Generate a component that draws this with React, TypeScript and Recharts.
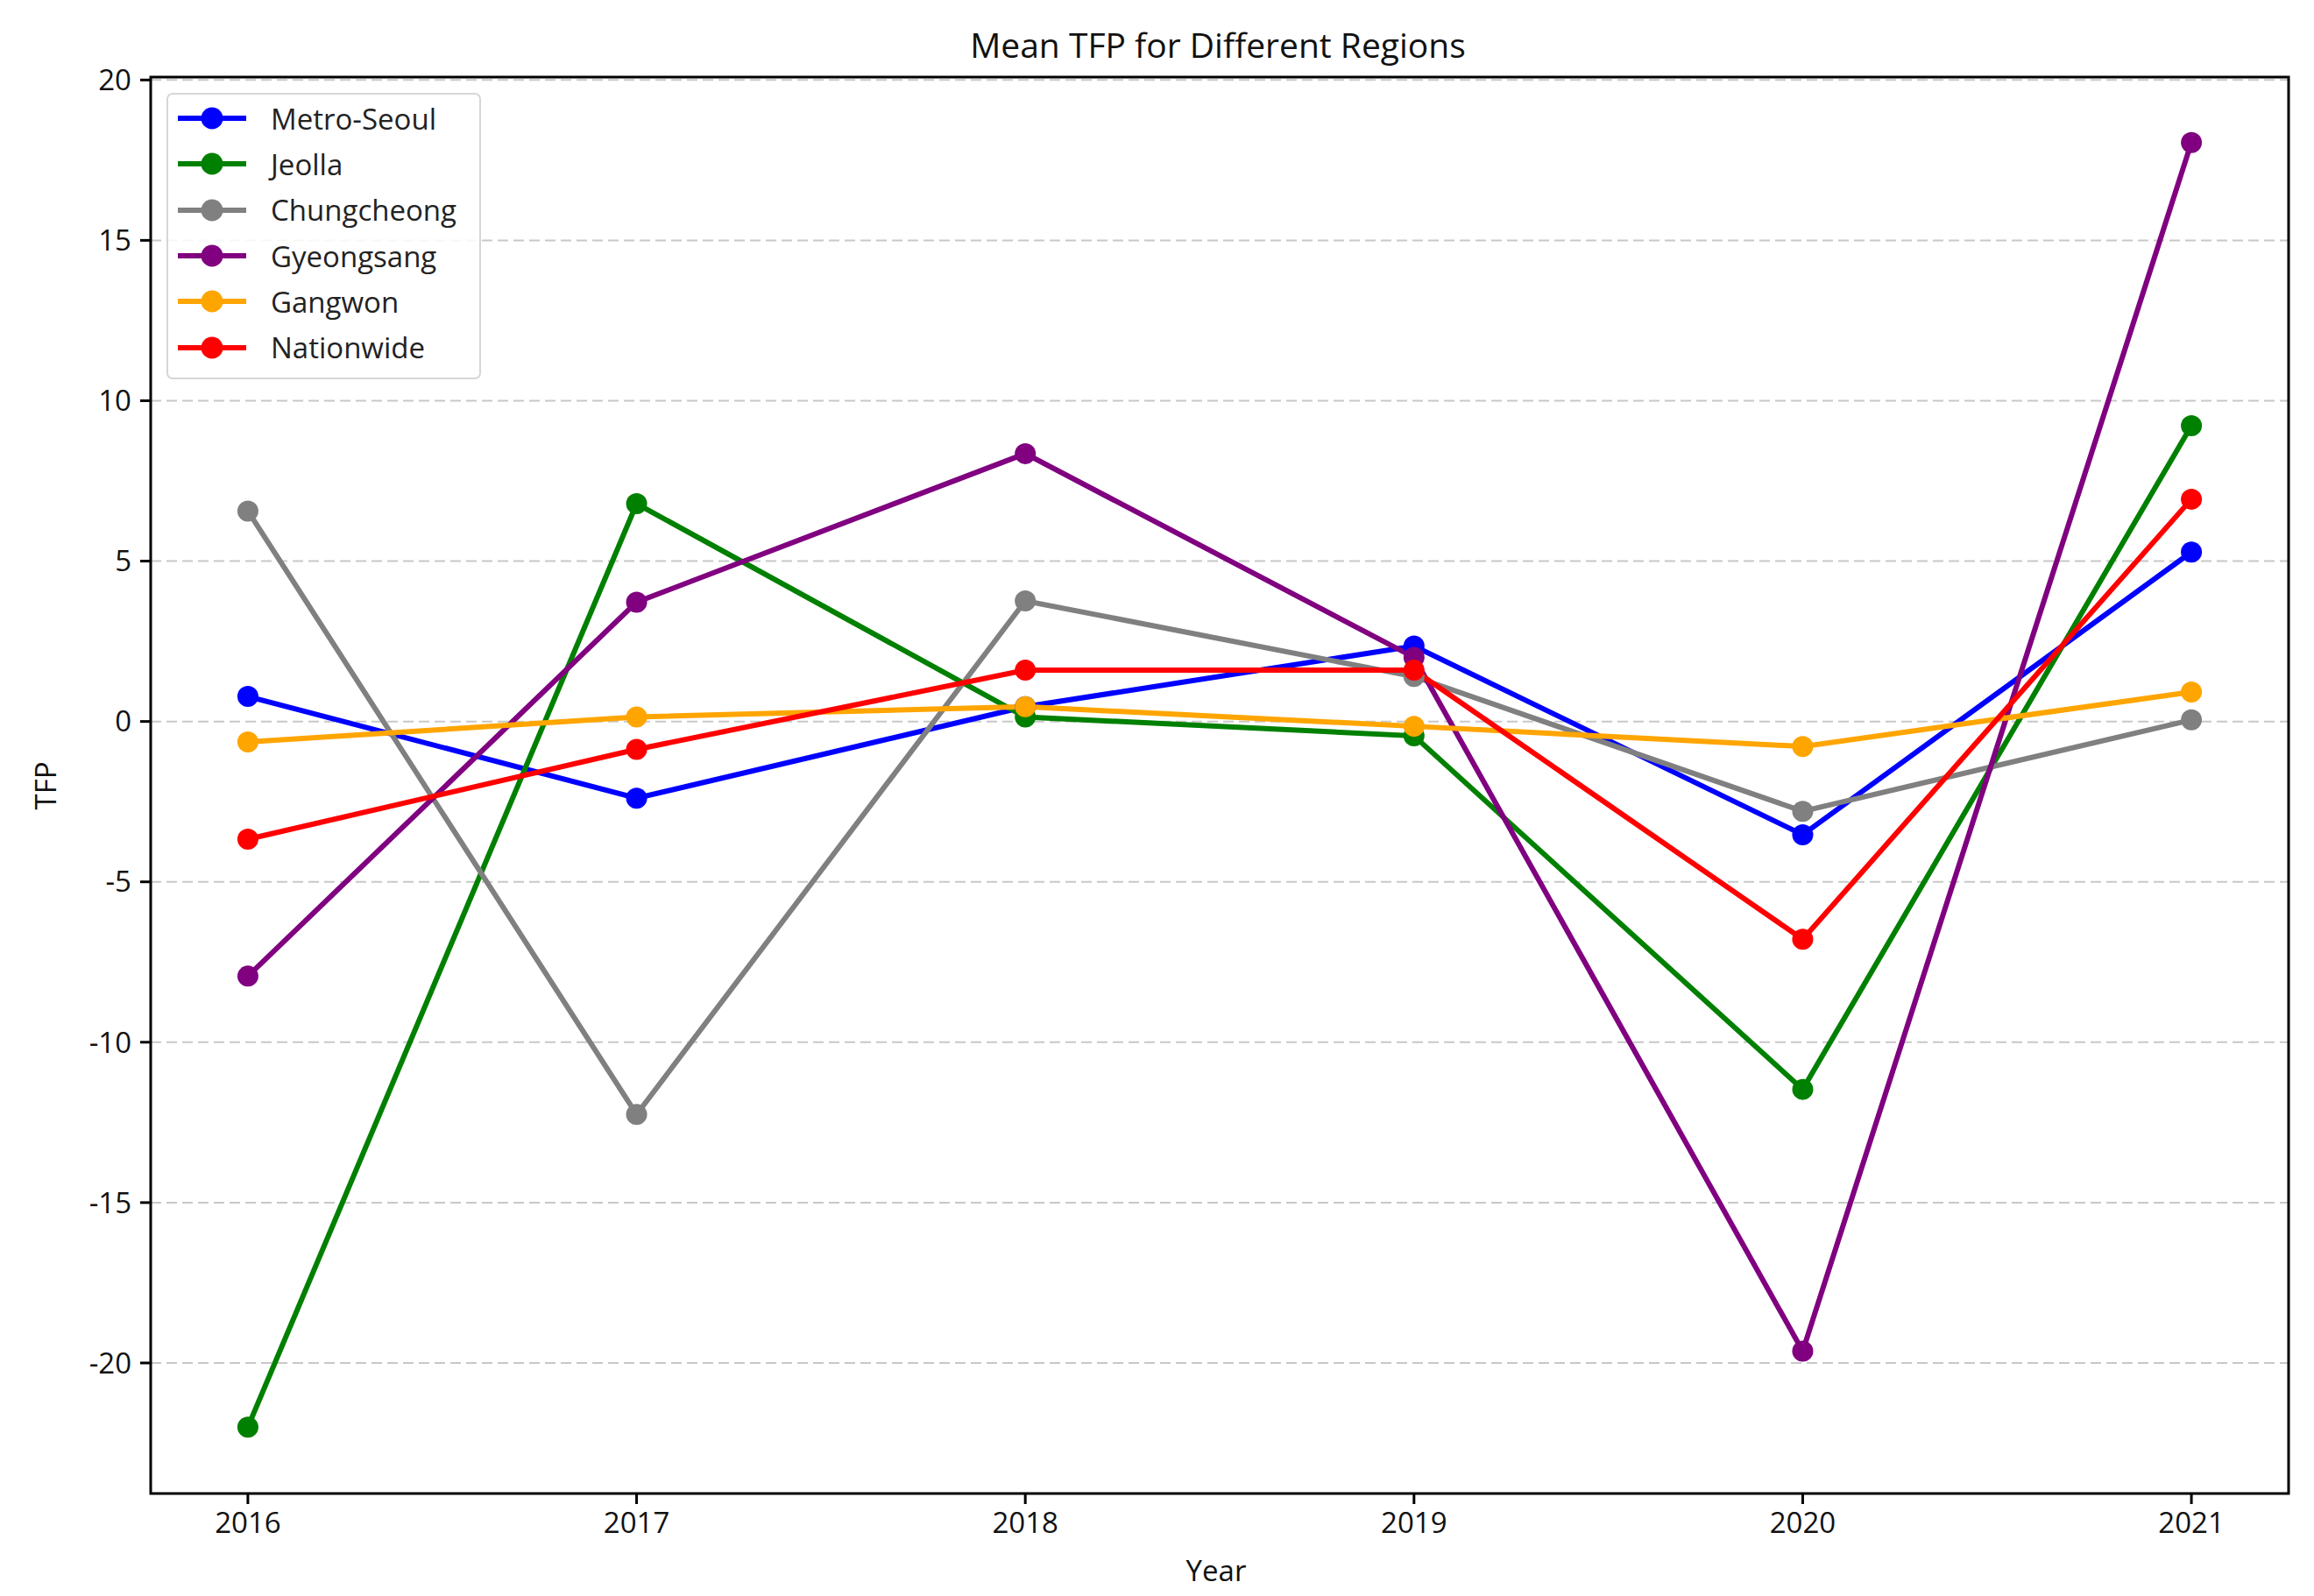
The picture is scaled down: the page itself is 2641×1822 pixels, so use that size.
import React from "react";
import {
  LineChart, Line, XAxis, YAxis, CartesianGrid, Legend, ReferenceArea,
} from "recharts";

const years = [2016, 2017, 2018, 2019, 2020, 2021];
const metroSeoul = [0.78, -2.39, 0.46, 2.35, -3.53, 5.28];
const jeolla = [-22.0, 6.79, 0.14, -0.45, -11.47, 9.22];
const chungcheong = [6.56, -12.25, 3.76, 1.4, -2.8, 0.05];
const gyeongsang = [-7.94, 3.72, 8.35, 2.0, -19.63, 18.05];
const gangwon = [-0.64, 0.14, 0.46, -0.15, -0.78, 0.92];
const nationwide = [-3.67, -0.87, 1.6, 1.6, -6.79, 6.93];

const yTicks = [-20, -15, -10, -5, 0, 5, 10, 15, 20];
const xDomain = [2015.75, 2021.25];
const yDomain = [-24.07, 20.09];

const series = [
  { key: "Metro-Seoul", color: "#0000ff", values: metroSeoul },
  { key: "Jeolla", color: "#008000", values: jeolla },
  { key: "Chungcheong", color: "#808080", values: chungcheong },
  { key: "Gyeongsang", color: "#800080", values: gyeongsang },
  { key: "Gangwon", color: "#ffa500", values: gangwon },
  { key: "Nationwide", color: "#ff0000", values: nationwide },
];

const data = years.map((year, i) => {
  const row: Record<string, number> = { year };
  series.forEach((s) => { row[s.key] = s.values[i]; });
  return row;
});

const FONT = "'Open Sans', 'DejaVu Sans', sans-serif";

function LegendBox() {
  return (
    <div
      style={{
        border: "2px solid #d6d6d6",
        borderRadius: 7,
        background: "rgba(255,255,255,0.85)",
        padding: "1px 0 8px 0",
        width: 355,
        fontFamily: FONT,
      }}
    >
      {series.map((s) => (
        <div key={s.key} style={{ height: 52.3, display: "flex", alignItems: "center" }}>
          <svg width={78} height={30} style={{ marginLeft: 11 }}>
            <line x1={0} y1={15} x2={78} y2={15} stroke={s.color} strokeWidth={6} />
            <circle cx={39} cy={15} r={12.5} fill={s.color} />
          </svg>
          <span style={{ marginLeft: 28, fontSize: 33, color: "#222", lineHeight: 1 }}>{s.key}</span>
        </div>
      ))}
    </div>
  );
}

export default function App() {
  return (
    <div style={{ position: "relative", width: 2625, height: 1806, fontFamily: FONT }}>
      <div
        style={{
          position: "absolute", left: 1382, top: 42, transform: "translate(-50%, -50%)",
          fontSize: 39, color: "#111", whiteSpace: "nowrap",
        }}
      >
        Mean TFP for Different Regions
      </div>
      <div
        style={{
          position: "absolute", left: 43, top: 889, transform: "translate(-50%, -50%) rotate(-90deg)",
          fontSize: 33, color: "#111", whiteSpace: "nowrap",
        }}
      >
        TFP
      </div>
      <div
        style={{
          position: "absolute", left: 1380, top: 1784, transform: "translate(-50%, -50%)",
          fontSize: 33, color: "#111", whiteSpace: "nowrap",
        }}
      >
        Year
      </div>
      <LineChart
        width={2625}
        height={1806}
        data={data}
        margin={{ top: 80, right: 21, left: 0, bottom: 0 }}
      >
        <CartesianGrid vertical={false} stroke="#c8c8c8" strokeWidth={2} strokeDasharray="12 6" />
        <XAxis
          dataKey="year"
          type="number"
          domain={xDomain}
          ticks={years}
          allowDataOverflow
          height={109}
          tickSize={12}
          tickMargin={10}
          axisLine={false}
          tickLine={{ stroke: "#000", strokeWidth: 3 }}
          tick={{ fontSize: 33, fill: "#111", fontFamily: FONT }}
        />
        <YAxis
          type="number"
          domain={yDomain}
          ticks={yTicks}
          allowDataOverflow
          width={164}
          tickSize={12}
          tickMargin={10}
          axisLine={false}
          tickLine={{ stroke: "#000", strokeWidth: 3 }}
          tick={{ fontSize: 33, fill: "#111", fontFamily: FONT }}
        />
        <ReferenceArea
          x1={xDomain[0]}
          x2={xDomain[1]}
          y1={yDomain[0]}
          y2={yDomain[1]}
          fill="none"
          stroke="#000"
          strokeWidth={3}
          ifOverflow="visible"
        />
        {series.map((s) => (
          <Line
            key={s.key}
            dataKey={s.key}
            stroke={s.color}
            strokeWidth={6}
            dot={{ r: 12, fill: s.color, stroke: "none" }}
            activeDot={false}
            isAnimationActive={false}
          />
        ))}
        <Legend
          layout="horizontal"
          verticalAlign="middle"
          align="center"
          content={() => <LegendBox />}
          wrapperStyle={{ left: 182, top: 98, width: "auto", height: "auto" }}
        />
      </LineChart>
    </div>
  );
}
